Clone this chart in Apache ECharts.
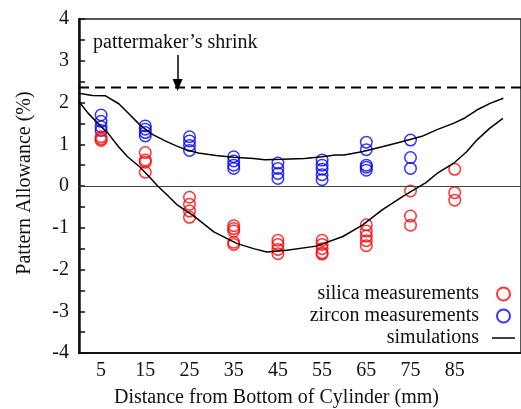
<!DOCTYPE html>
<html>
<head>
<meta charset="utf-8">
<script src="https://cdn.jsdelivr.net/npm/echarts@6/dist/echarts.min.js"></script>
<style>html,body{margin:0;padding:0;background:#fff}#c{width:521px;height:409px}</style>
</head>
<body>
<div id="c"></div>
<script>
// ---- data ----
const positions = [5, 15, 25, 35, 45, 55, 65, 75, 85];
const silica = [
  [1.18, 1.13, 1.09],
  [0.80, 0.62, 0.57, 0.33],
  [-0.27, -0.44, -0.60, -0.75],
  [-0.95, -1.02, -1.08, -1.35, -1.40],
  [-1.30, -1.40, -1.52, -1.62],
  [-1.30, -1.40, -1.50, -1.60, -1.63],
  [-0.93, -1.08, -1.20, -1.31, -1.43],
  [-0.12, -0.72, -0.94],
  [0.40, -0.16, -0.34]
];
const zircon = [
  [1.70, 1.55, 1.42, 1.33],
  [1.44, 1.36, 1.28, 1.20],
  [1.18, 1.08, 0.97, 0.85],
  [0.70, 0.60, 0.50, 0.42],
  [0.55, 0.42, 0.30, 0.18],
  [0.62, 0.50, 0.40, 0.27, 0.15],
  [1.05, 0.87, 0.50, 0.45, 0.38],
  [1.10, 0.68, 0.42],
  []
];
const simUpperX = [0, 3, 6, 9, 11, 14, 16.7, 19.5, 22, 24.5, 27, 31, 35, 39.5, 42, 46, 51, 55, 58, 60, 64, 68.6, 73, 77.6, 81, 84.7, 87.3, 90, 93, 96];
const simUpperY = [2.22, 2.17, 2.16, 1.97, 1.76, 1.44, 1.23, 1.08, 0.96, 0.86, 0.79, 0.73, 0.69, 0.66, 0.63, 0.64, 0.66, 0.70, 0.74, 0.74, 0.82, 0.94, 1.06, 1.19, 1.35, 1.50, 1.63, 1.82, 1.98, 2.10];
const simLowerX = [0, 2.1, 4.3, 6.6, 8.8, 11, 13.7, 15.9, 17.8, 20, 22.3, 26, 30.5, 35.8, 39.5, 42.5, 47, 53.7, 59.7, 64.2, 68.6, 73.1, 78.5, 81, 84.7, 87.7, 90, 92.9, 95.9];
const simLowerY = [2.02, 1.74, 1.50, 1.26, 0.96, 0.70, 0.46, 0.22, 0.0, -0.22, -0.46, -0.72, -1.10, -1.38, -1.50, -1.58, -1.54, -1.44, -1.21, -0.93, -0.57, -0.26, 0.08, 0.30, 0.54, 0.82, 1.10, 1.38, 1.62];
const shrinkValue = 2.36;
const arrowX = 22.3, arrowFrom = 3.14, arrowTo = 2.42;
const xTickLabels = [5, 15, 25, 35, 45, 55, 65, 75, 85];
const names = ['silica measurements', 'zircon measurements', 'simulations'];

function pts(pos, vals) {
  const out = [];
  pos.forEach((p, i) => vals[i].forEach(v => out.push([p, v])));
  return out;
}
function zip(xs, ys) { return xs.map((x, i) => [x, ys[i]]); }

const FONT = 'Liberation Serif';
const chart = echarts.init(document.getElementById('c'), null, {renderer: 'canvas'});
chart.setOption({
  animation: false,
  backgroundColor: '#fff',
  textStyle: {fontFamily: FONT, color: '#111'},
  grid: {left: 79, top: 19, right: -4, bottom: 56, show: true, borderColor: '#222', borderWidth: 1.5, backgroundColor: 'transparent'},
  xAxis: {
    type: 'value', min: 0, max: 100,
    axisLine: {show: true, onZero: false, lineStyle: {color: '#111', width: 2}},
    axisTick: {show: false},
    splitLine: {show: false},
    axisLabel: {customValues: xTickLabels, fontFamily: FONT, fontSize: 20, color: '#111', margin: 8}
  },
  yAxis: {
    type: 'value', min: -4, max: 4, interval: 0.5,
    axisLine: {show: true, lineStyle: {color: '#111', width: 2.5}},
    axisTick: {show: true, inside: true, length: 6, lineStyle: {color: '#111', width: 1.5}},
    splitLine: {show: false},
    axisLabel: {fontFamily: FONT, fontSize: 20, color: '#111', margin: 10,
      formatter: v => Number.isInteger(v) ? String(v) : ''}
  },
  legend: {
    data: [
      {name: names[0]},
      {name: names[1]},
      {name: names[2], icon: 'path://M0,0 L46,0 L46,3 L0,3 Z', itemStyle: {color: '#000', borderWidth: 0}}
    ],
    orient: 'vertical', align: 'right', right: 1, top: 279,
    itemWidth: 23, itemHeight: 13, itemGap: 2,
    textStyle: {fontFamily: FONT, fontSize: 20, color: '#111', padding: [0, 8, 0, 0]}
  },
  graphic: [
    {type: 'text', left: 93, top: 33, style: {text: 'pattermaker\u2019s shrink', font: '20px "Liberation Serif"', fill: '#111'}},
    {type: 'text', left: 114, top: 388, style: {text: 'Distance from Bottom of Cylinder (mm)', font: '20px "Liberation Serif"', fill: '#111'}},
    {type: 'text', x: 25, y: 183, rotation: Math.PI / 2, style: {text: 'Pattern Allowance (%)', font: '20px "Liberation Serif"', fill: '#111', align: 'center', verticalAlign: 'middle'}}
  ],
  series: [
    {
      name: 'shrink', type: 'line', data: [[0, shrinkValue], [100, shrinkValue]], symbol: 'none',
      lineStyle: {color: '#000', width: 2, type: [10, 6]}, silent: true, z: 3,
      markLine: {
        silent: true, animation: false, label: {show: false},
        data: [
          [{coord: [0, 0], symbol: 'none', lineStyle: {color: '#444', width: 1, type: 'solid'}},
           {coord: [100, 0], symbol: 'none'}],
          [{coord: [arrowX, arrowFrom], symbol: 'none', lineStyle: {color: '#000', width: 1.5, type: 'solid'}},
           {coord: [arrowX, arrowTo], symbol: 'triangle', symbolSize: [10, 12]}]
        ]
      }
    },
    {
      name: names[1], type: 'scatter', data: pts(positions, zircon), symbol: 'circle', symbolSize: 11.5,
      itemStyle: {color: 'rgba(0,0,0,0)', borderColor: '#0000ff', borderWidth: 1.5}, z: 4
    },
    {
      name: names[0], type: 'scatter', data: pts(positions, silica), symbol: 'circle', symbolSize: 11.5,
      itemStyle: {color: 'rgba(0,0,0,0)', borderColor: '#ff0000', borderWidth: 1.5}, z: 4
    },
    {
      name: names[2], type: 'line', data: zip(simUpperX, simUpperY), symbol: 'none',
      lineStyle: {color: '#000', width: 1.5}, itemStyle: {color: '#000'}, z: 5
    },
    {
      name: names[2], type: 'line', data: zip(simLowerX, simLowerY), symbol: 'none',
      lineStyle: {color: '#000', width: 1.5}, itemStyle: {color: '#000'}, z: 5
    }
  ]
});
</script>
</body>
</html>
